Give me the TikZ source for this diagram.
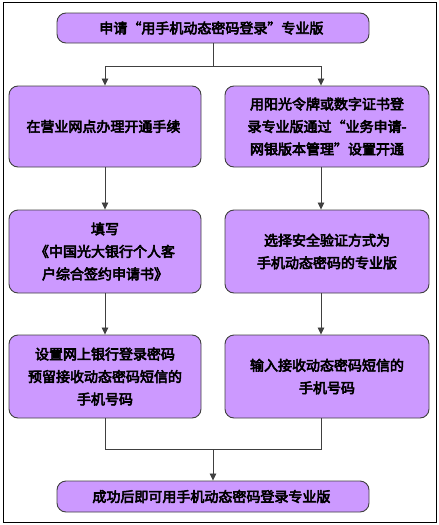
\documentclass[tikz,border=0pt]{standalone}
\usepackage{fontspec}
\newfontfamily\cjk{Noto Sans CJK SC}[AutoFakeBold=4]
\usetikzlibrary{arrows.meta}
\definecolor{boxfill}{HTML}{CC99FF}
\definecolor{boxline}{HTML}{404040}
\tikzset{
  stepbox/.style={draw=boxline, line width=0.9pt, fill=boxfill, rounded corners=9pt,
    align=center, inner sep=2pt, font=\cjk\bfseries\fontsize{14}{22.5}\selectfont},
  flow/.style={draw=boxline, line width=0.8pt},
  flowarrow/.style={flow, -{Triangle[length=7pt,width=6.5pt]}}
}
\begin{document}
\begin{tikzpicture}[x=1pt, y=-1pt]
  \def\Xm{213};
  \def\Xl{105};
  \def\Xr{327};
  \def\Xa{321};
  \def\Ya{126.5};
  \def\Yb{251.5};
  \def\Yc{376.5};
  \useasboundingbox (0,0) rectangle (439,525);
  \draw [line width=0.9pt] (3,2) rectangle (436,522);  % frame

  \node (top) [stepbox, minimum width=312pt, minimum height=30pt] at (\Xm, 28)
        { 申请“用手机动态密码登录”专业版 };

  \node (la) [stepbox, minimum width=192pt, minimum height=81pt] at (\Xl, \Ya)
        { 在营业网点办理开通手续 };
  \node (ra) [stepbox, minimum width=204pt, minimum height=81pt] at (\Xr, \Ya)
        { 用阳光令牌或数字证书登\\录专业版通过“业务申请-\\网银版本管理”设置开通 };

  \node (lb) [stepbox, minimum width=192pt, minimum height=83pt] at (\Xl, \Yb)
        { 填写\\《中国光大银行个人客\\户综合签约申请书》 };
  \node (rb) [stepbox, minimum width=204pt, minimum height=83pt] at (\Xr, \Yb)
        { 选择安全验证方式为\\手机动态密码的专业版 };

  \node (lc) [stepbox, minimum width=192pt, minimum height=83pt] at (\Xl, \Yc)
        { 设置网上银行登录密码\\预留接收动态密码短信的\\手机号码 };
  \node (rc) [stepbox, minimum width=204pt, minimum height=83pt] at (\Xr, \Yc)
        { 输入接收动态密码短信的\\手机号码 };

  \node (end) [stepbox, minimum width=312pt, minimum height=31pt] at (\Xm, 496.5)
        { 成功后即可用手机动态密码登录专业版 };

  \coordinate (split) at (\Xm, 66);
  \coordinate (join) at (\Xm, 449);

  \draw [flow] (top.south) -- (split);                    % split in two
  \draw [flowarrow] (split) -| (la.north);
  \draw [flowarrow] (split) -| (\Xa, 0 |- ra.north);

  \draw [flowarrow] (la.south) -- (lb.north);             % left column
  \draw [flowarrow] (lb.south) -- (lc.north);
  \draw [flowarrow] (\Xa, 0 |- ra.south) -- (\Xa, 0 |- rb.north);  % right column
  \draw [flowarrow] (\Xa, 0 |- rb.south) -- (\Xa, 0 |- rc.north);

  \draw [flow] (lc.south) |- (join);                      % join again
  \draw [flow] (\Xa, 0 |- rc.south) |- (join);
  \draw [flowarrow] (join) -- (end.north);
\end{tikzpicture}
\end{document}
